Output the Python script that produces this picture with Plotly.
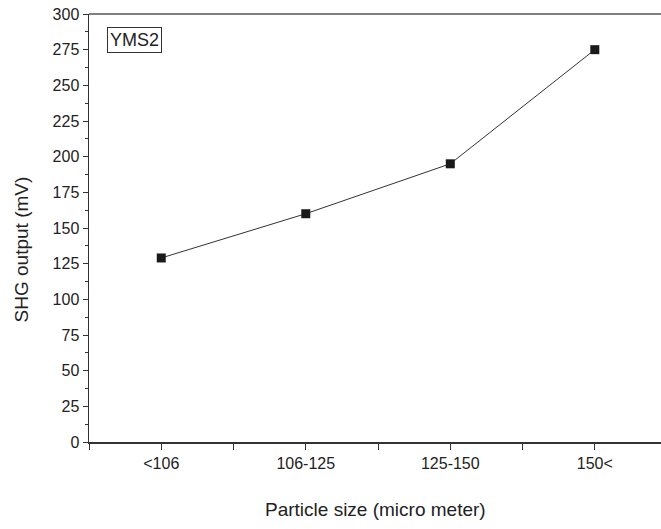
import plotly.graph_objects as go

categories = ["<106", "106-125", "125-150", "150<"]
shg_output = [129, 160, 195, 275]
positions = [1, 2, 3, 4]
y_ticks = [0, 25, 50, 75, 100, 125, 150, 175, 200, 225, 250, 275, 300]

# category ticks plus unlabelled ticks between categories
x_tickvals = [0.5, 1, 1.5, 2, 2.5, 3, 3.5, 4]
x_ticktext = ["", categories[0], "", categories[1], "", categories[2], "", categories[3]]

fig = go.Figure()
fig.add_trace(go.Scatter(
    x=positions, y=shg_output, mode="lines+markers",
    line=dict(color="#333333", width=1),
    marker=dict(symbol="square", size=9, color="#1a1a1a"),
    showlegend=False,
))

FONT = "Liberation Sans, Arial"
axis_font = dict(family=FONT, size=16, color="#222222")
PW, PH = 572, 428
fig.update_layout(
    width=661, height=529,
    margin=dict(l=89, r=0, t=14, b=87),
    plot_bgcolor="white", paper_bgcolor="white",
    dragmode=False,
    xaxis=dict(
        range=[0.5, 4.458], tickvals=x_tickvals, ticktext=x_ticktext,
        showline=True, linecolor="#333333", linewidth=1.5, mirror=False,
        ticks="outside", ticklen=6, tickwidth=1, tickcolor="#333333",
        showgrid=False, zeroline=False, tickfont=axis_font,
    ),
    yaxis=dict(
        range=[0, 300], tickvals=y_ticks,
        showline=True, linecolor="#333333", linewidth=1.5, mirror=False,
        ticks="outside", ticklen=5, tickwidth=1, tickcolor="#333333",
        minor=dict(dtick=12.5, ticks="outside", ticklen=3, tickcolor="#333333", showgrid=False),
        showgrid=False, zeroline=False, tickfont=axis_font,
    ),
    shapes=[
        dict(type="line", xref="paper", yref="paper", x0=0, x1=1, y0=1, y1=1,
             line=dict(color="#555555", width=1.5)),
    ],
    annotations=[
        dict(text="YMS2", xref="paper", yref="paper", x=0.031, y=0.97,
             xanchor="left", yanchor="top", showarrow=False,
             font=dict(family=FONT, size=18, color="#222222"),
             bordercolor="#333333", borderwidth=1, borderpad=2, bgcolor="white"),
        dict(text="Particle size (micro meter)", xref="paper", yref="paper",
             x=0.5, y=-67 / PH, xanchor="center", yanchor="middle", showarrow=False,
             font=dict(family=FONT, size=19, color="#222222")),
        dict(text="SHG output (mV)", xref="paper", yref="paper", textangle=-90,
             x=-68 / PW, y=0.45, xanchor="center", yanchor="middle", showarrow=False,
             font=dict(family=FONT, size=19, color="#222222")),
    ],
)

fig.write_html("out.html", config={"staticPlot": True})
